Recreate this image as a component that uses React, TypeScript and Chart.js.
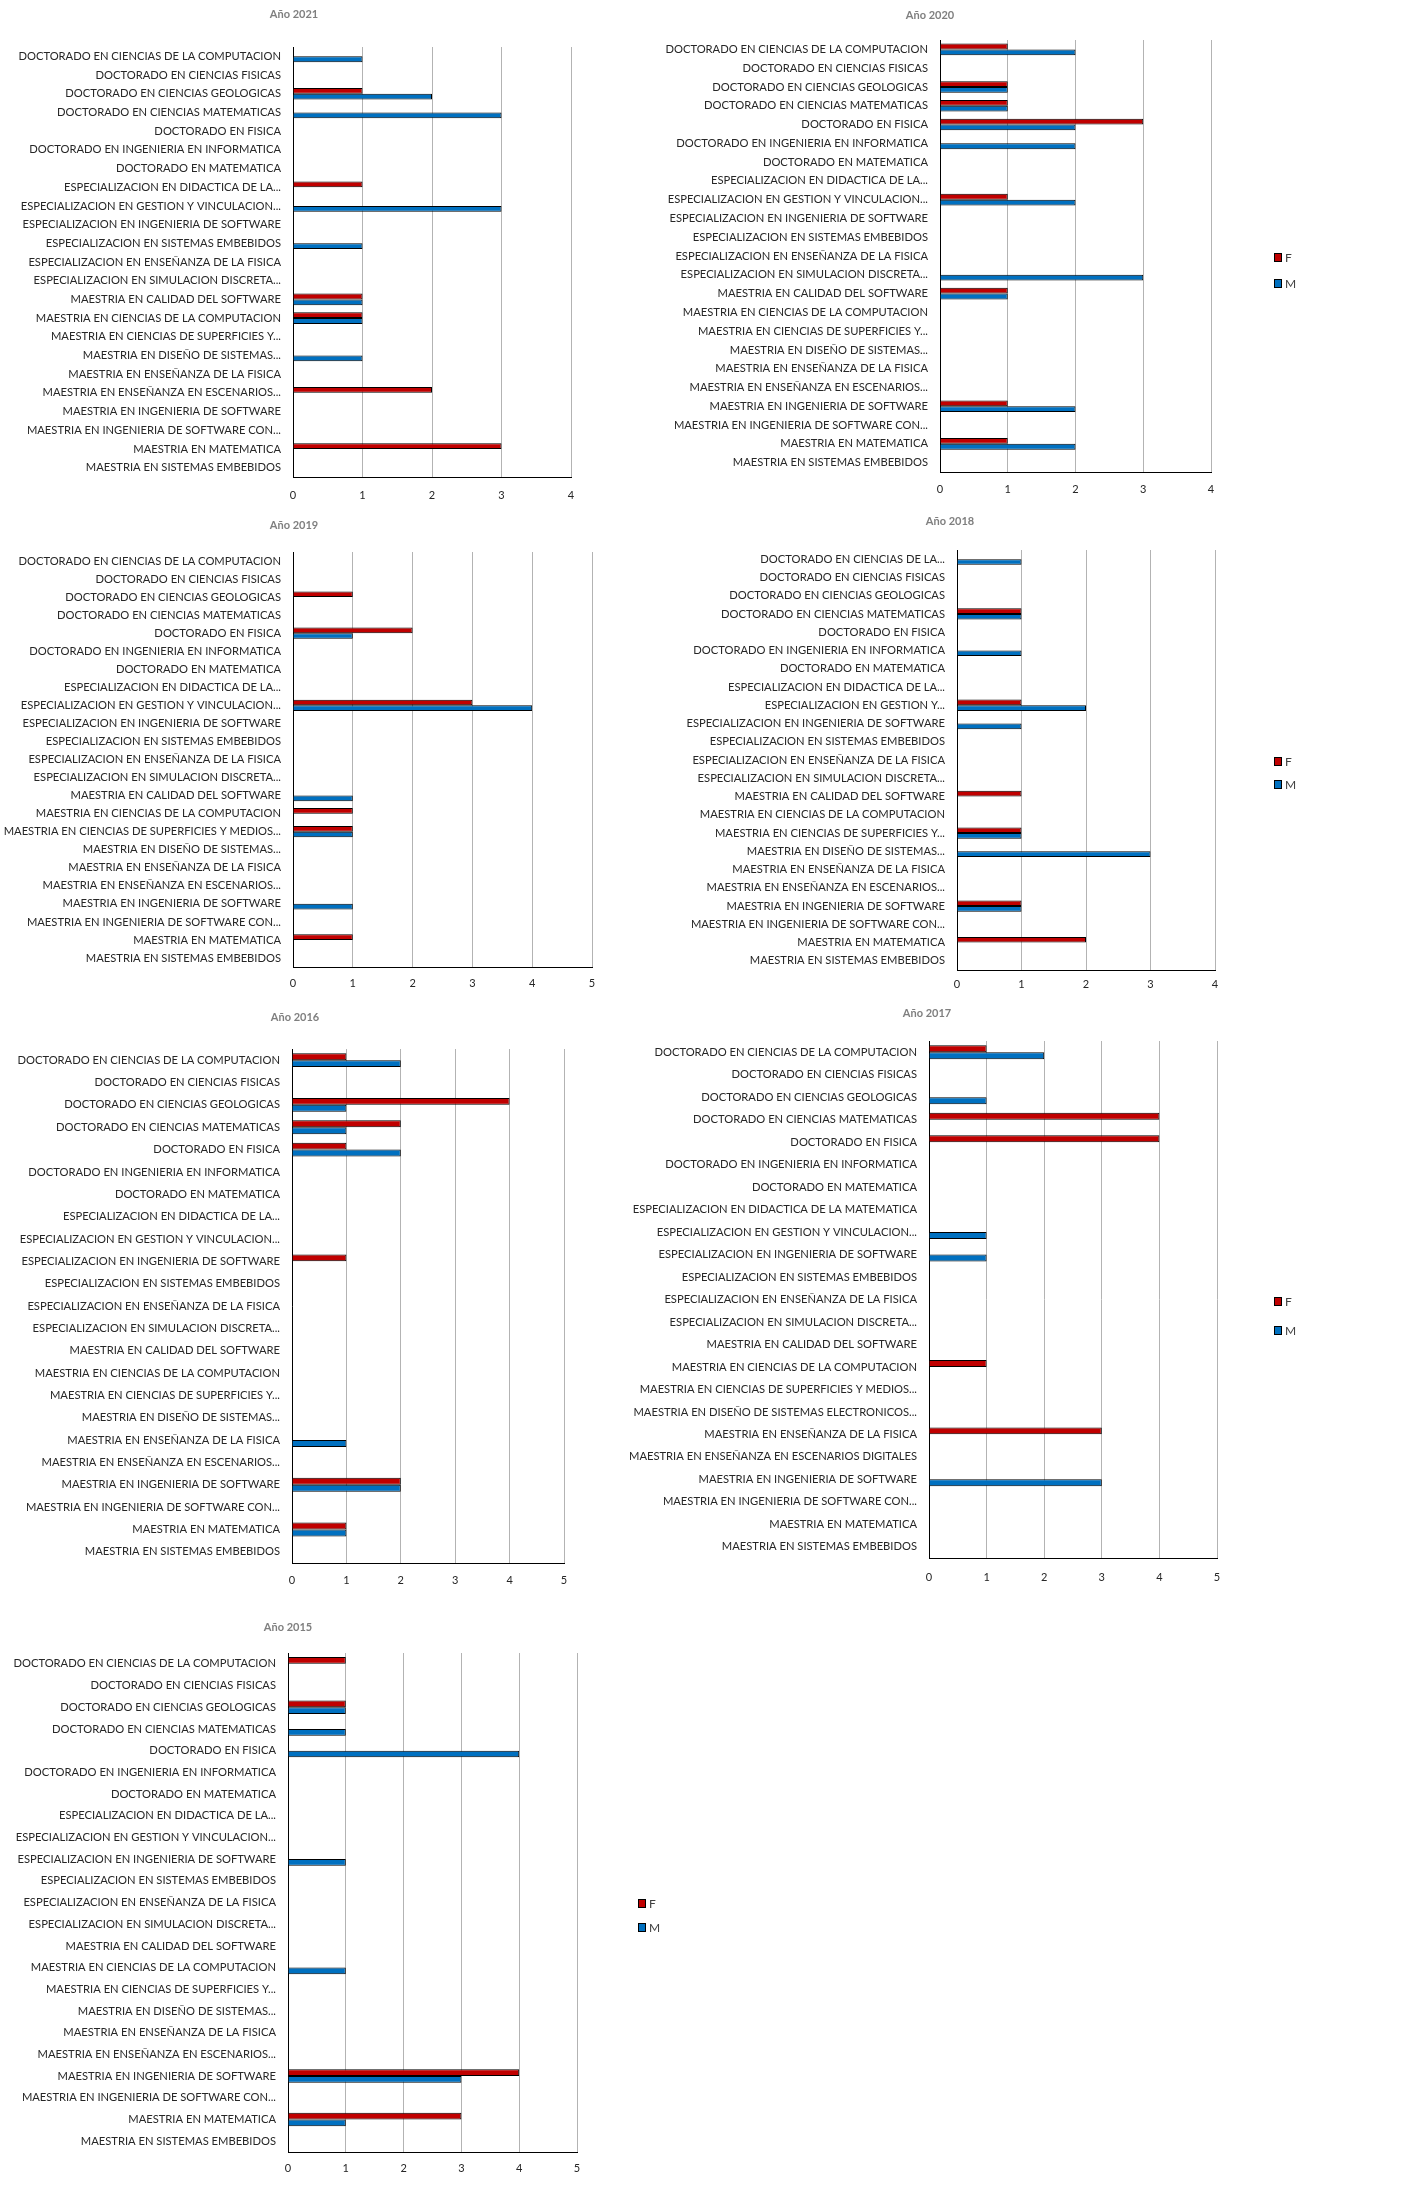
import React, { useEffect, useRef } from "react";
import { Chart, registerables } from "chart.js";

Chart.register(...registerables);

// ---------- DATA ----------
const baseCategories = [
  "DOCTORADO EN CIENCIAS DE LA COMPUTACION",
  "DOCTORADO EN CIENCIAS FISICAS",
  "DOCTORADO EN CIENCIAS GEOLOGICAS",
  "DOCTORADO EN CIENCIAS MATEMATICAS",
  "DOCTORADO EN FISICA",
  "DOCTORADO EN INGENIERIA EN INFORMATICA",
  "DOCTORADO EN MATEMATICA",
  "ESPECIALIZACION EN DIDACTICA DE LA...",
  "ESPECIALIZACION EN GESTION Y VINCULACION...",
  "ESPECIALIZACION EN INGENIERIA DE SOFTWARE",
  "ESPECIALIZACION EN SISTEMAS EMBEBIDOS",
  "ESPECIALIZACION EN ENSEÑANZA DE LA FISICA",
  "ESPECIALIZACION EN SIMULACION DISCRETA...",
  "MAESTRIA EN CALIDAD DEL SOFTWARE",
  "MAESTRIA EN CIENCIAS DE LA COMPUTACION",
  "MAESTRIA EN CIENCIAS DE SUPERFICIES Y...",
  "MAESTRIA EN DISEÑO DE SISTEMAS...",
  "MAESTRIA EN ENSEÑANZA DE LA FISICA",
  "MAESTRIA EN ENSEÑANZA EN ESCENARIOS...",
  "MAESTRIA EN INGENIERIA DE SOFTWARE",
  "MAESTRIA EN INGENIERIA DE SOFTWARE CON...",
  "MAESTRIA EN MATEMATICA",
  "MAESTRIA EN SISTEMAS EMBEBIDOS",
];

const labelOverrides2019: Record<number, string> = {
  15: "MAESTRIA EN CIENCIAS DE SUPERFICIES Y MEDIOS...",
};
const labelOverrides2018: Record<number, string> = {
  0: "DOCTORADO EN CIENCIAS DE LA...",
  8: "ESPECIALIZACION EN GESTION Y...",
};
const labelOverrides2017: Record<number, string> = {
  7: "ESPECIALIZACION EN DIDACTICA DE LA MATEMATICA",
  15: "MAESTRIA EN CIENCIAS DE SUPERFICIES Y MEDIOS...",
  16: "MAESTRIA EN DISEÑO DE SISTEMAS ELECTRONICOS...",
  18: "MAESTRIA EN ENSEÑANZA EN ESCENARIOS DIGITALES",
};

const withOverrides = (o: Record<number, string>) =>
  baseCategories.map((c, i) => (o[i] !== undefined ? o[i] : c));

const seriesNames = ["F", "M"];

const f2021 = [0, 0, 1, 0, 0, 0, 0, 1, 0, 0, 0, 0, 0, 1, 1, 0, 0, 0, 2, 0, 0, 3, 0];
const m2021 = [1, 0, 2, 3, 0, 0, 0, 0, 3, 0, 1, 0, 0, 1, 1, 0, 1, 0, 0, 0, 0, 0, 0];
const f2020 = [1, 0, 1, 1, 3, 0, 0, 0, 1, 0, 0, 0, 0, 1, 0, 0, 0, 0, 0, 1, 0, 1, 0];
const m2020 = [2, 0, 1, 1, 2, 2, 0, 0, 2, 0, 0, 0, 3, 1, 0, 0, 0, 0, 0, 2, 0, 2, 0];
const f2019 = [0, 0, 1, 0, 2, 0, 0, 0, 3, 0, 0, 0, 0, 0, 1, 1, 0, 0, 0, 0, 0, 1, 0];
const m2019 = [0, 0, 0, 0, 1, 0, 0, 0, 4, 0, 0, 0, 0, 1, 0, 1, 0, 0, 0, 1, 0, 0, 0];
const f2018 = [0, 0, 0, 1, 0, 0, 0, 0, 1, 0, 0, 0, 0, 1, 0, 1, 0, 0, 0, 1, 0, 2, 0];
const m2018 = [1, 0, 0, 1, 0, 1, 0, 0, 2, 1, 0, 0, 0, 0, 0, 1, 3, 0, 0, 1, 0, 0, 0];
const f2016 = [1, 0, 4, 2, 1, 0, 0, 0, 0, 1, 0, 0, 0, 0, 0, 0, 0, 0, 0, 2, 0, 1, 0];
const m2016 = [2, 0, 1, 1, 2, 0, 0, 0, 0, 0, 0, 0, 0, 0, 0, 0, 0, 1, 0, 2, 0, 1, 0];
const f2017 = [1, 0, 0, 4, 4, 0, 0, 0, 0, 0, 0, 0, 0, 0, 1, 0, 0, 3, 0, 0, 0, 0, 0];
const m2017 = [2, 0, 1, 0, 0, 0, 0, 0, 1, 1, 0, 0, 0, 0, 0, 0, 0, 0, 0, 3, 0, 0, 0];
const f2015 = [1, 0, 1, 0, 0, 0, 0, 0, 0, 0, 0, 0, 0, 0, 0, 0, 0, 0, 0, 4, 0, 3, 0];
const m2015 = [0, 0, 1, 1, 4, 0, 0, 0, 0, 1, 0, 0, 0, 0, 1, 0, 0, 0, 0, 3, 0, 1, 0];

// ---------- LAYOUT / STYLE ----------
const COLOR_F = "#C00000";
const COLOR_M = "#0070C0";
const FONT = "Lato, 'Open Sans', sans-serif";

type Panel = {
  title: string;
  labels: string[];
  f: number[];
  m: number[];
  max: number;
  box: { x: number; y: number; w: number; h: number };
  plot: { l: number; r: number; t: number; b: number };
  titlePos: { x: number; y: number };
  ticksY: number;
  legend: { x: number; y: number[] } | null;
};

const panels: Panel[] = [
  {
    title: "Año 2021", labels: baseCategories, f: f2021, m: m2021, max: 4,
    box: { x: 0, y: 0, w: 600, h: 510 },
    plot: { l: 293, r: 571, t: 47, b: 477 },
    titlePos: { x: 294, y: 14 }, ticksY: 495, legend: null,
  },
  {
    title: "Año 2020", labels: baseCategories, f: f2020, m: m2020, max: 4,
    box: { x: 600, y: 0, w: 812, h: 510 },
    plot: { l: 940, r: 1211, t: 40, b: 472 },
    titlePos: { x: 930, y: 15 }, ticksY: 489, legend: { x: 1274, y: [257, 283] },
  },
  {
    title: "Año 2019", labels: withOverrides(labelOverrides2019), f: f2019, m: m2019, max: 5,
    box: { x: 0, y: 510, w: 612, h: 490 },
    plot: { l: 293, r: 592, t: 552, b: 967 },
    titlePos: { x: 294, y: 525 }, ticksY: 983, legend: null,
  },
  {
    title: "Año 2018", labels: withOverrides(labelOverrides2018), f: f2018, m: m2018, max: 4,
    box: { x: 600, y: 510, w: 812, h: 490 },
    plot: { l: 957, r: 1215, t: 550, b: 970 },
    titlePos: { x: 950, y: 521 }, ticksY: 984, legend: { x: 1274, y: [761, 784] },
  },
  {
    title: "Año 2016", labels: baseCategories, f: f2016, m: m2016, max: 5,
    box: { x: 0, y: 1000, w: 600, h: 605 },
    plot: { l: 292, r: 564, t: 1049, b: 1563 },
    titlePos: { x: 295, y: 1017 }, ticksY: 1580, legend: null,
  },
  {
    title: "Año 2017", labels: withOverrides(labelOverrides2017), f: f2017, m: m2017, max: 5,
    box: { x: 600, y: 1000, w: 812, h: 605 },
    plot: { l: 929, r: 1217, t: 1041, b: 1558 },
    titlePos: { x: 927, y: 1013 }, ticksY: 1577, legend: { x: 1274, y: [1301, 1330] },
  },
  {
    title: "Año 2015", labels: baseCategories, f: f2015, m: m2015, max: 5,
    box: { x: 0, y: 1605, w: 760, h: 604 },
    plot: { l: 288, r: 577, t: 1653, b: 2152 },
    titlePos: { x: 288, y: 1627 }, ticksY: 2168, legend: { x: 638, y: [1903, 1927] },
  },
];

const overlayPlugin = {
  id: "panelOverlay",
  afterDraw(chart: any, _args: any, opts: any) {
    const ctx = chart.ctx;
    ctx.save();
    // title
    ctx.font = `bold 11px ${FONT}`;
    ctx.fillStyle = "#7F7F7F";
    ctx.textAlign = "center";
    ctx.textBaseline = "middle";
    ctx.fillText(opts.title, opts.tx, opts.ty);
    // legend
    if (opts.legend) {
      chart.data.datasets.forEach((ds: any, i: number) => {
        const y = opts.legend.y[i];
        const x = opts.legend.x;
        ctx.fillStyle = ds.backgroundColor;
        ctx.fillRect(x, y - 4, 7, 8);
        ctx.strokeStyle = "#000";
        ctx.lineWidth = 1;
        ctx.strokeRect(x + 0.5, y - 3.5, 7, 8);
        ctx.fillStyle = "#404040";
        ctx.font = `12px ${FONT}`;
        ctx.textAlign = "left";
        ctx.fillText(ds.label, x + 11, y + 1);
      });
    }
    ctx.restore();
  },
};

function BarPanel({ p }: { p: Panel }) {
  const ref = useRef<HTMLCanvasElement | null>(null);
  useEffect(() => {
    if (!ref.current) return;
    const { box, plot } = p;
    const yWidth = plot.l - box.x;
    const xHeight = box.y + box.h - plot.b;
    const chart = new Chart(ref.current, {
      type: "bar",
      data: {
        labels: p.labels,
        datasets: [
          {
            label: seriesNames[0], data: p.f, backgroundColor: COLOR_F,
            borderColor: "#000", borderWidth: 1,
          },
          {
            label: seriesNames[1], data: p.m, backgroundColor: COLOR_M,
            borderColor: "#000", borderWidth: 1,
          },
        ],
      },
      options: {
        indexAxis: "y",
        animation: false,
        responsive: false,
        maintainAspectRatio: false,
        devicePixelRatio: 1,
        datasets: { bar: { categoryPercentage: 0.62, barPercentage: 1.0 } },
        layout: {
          padding: {
            top: plot.t - box.y,
            right: box.x + box.w - plot.r,
            left: 0,
            bottom: 0,
          },
        },
        plugins: {
          legend: { display: false },
          title: { display: false },
          tooltip: { enabled: false },
          panelOverlay: {
            title: p.title,
            tx: p.titlePos.x - box.x,
            ty: p.titlePos.y - box.y,
            legend: p.legend ? { x: p.legend.x - box.x, y: p.legend.y.map((v) => v - box.y) } : null,
          },
        } as any,
        scales: {
          x: {
            min: 0,
            max: p.max,
            ticks: {
              stepSize: 1,
              padding: p.ticksY - plot.b - 6,
              color: "#262626",
              font: { family: FONT, size: 11 },
            },
            grid: { color: "#B3B3B3", lineWidth: 1, drawTicks: false },
            border: { display: true, color: "#000", width: 1 },
            afterFit: (s: any) => { s.height = xHeight; },
          },
          y: {
            ticks: {
              autoSkip: false,
              padding: 12,
              color: "#262626",
              font: { family: FONT, size: 11.2 },
            },
            grid: { color: "rgba(0,0,0,0)", drawTicks: false },
            border: { display: true, color: "#000", width: 1 },
            afterFit: (s: any) => { s.width = yWidth; },
          },
        },
      } as any,
      plugins: [overlayPlugin],
    });
    return () => chart.destroy();
  }, [p]);
  return (
    <canvas
      ref={ref}
      width={p.box.w}
      height={p.box.h}
      style={{ position: "absolute", left: p.box.x, top: p.box.y, width: p.box.w, height: p.box.h }}
    />
  );
}

export default function App() {
  return (
    <div style={{ position: "absolute", left: 0, top: 0, width: 1412, height: 2209, background: "#fff", overflow: "hidden" }}>
      {panels.map((p) => (
        <BarPanel key={p.title} p={p} />
      ))}
    </div>
  );
}
